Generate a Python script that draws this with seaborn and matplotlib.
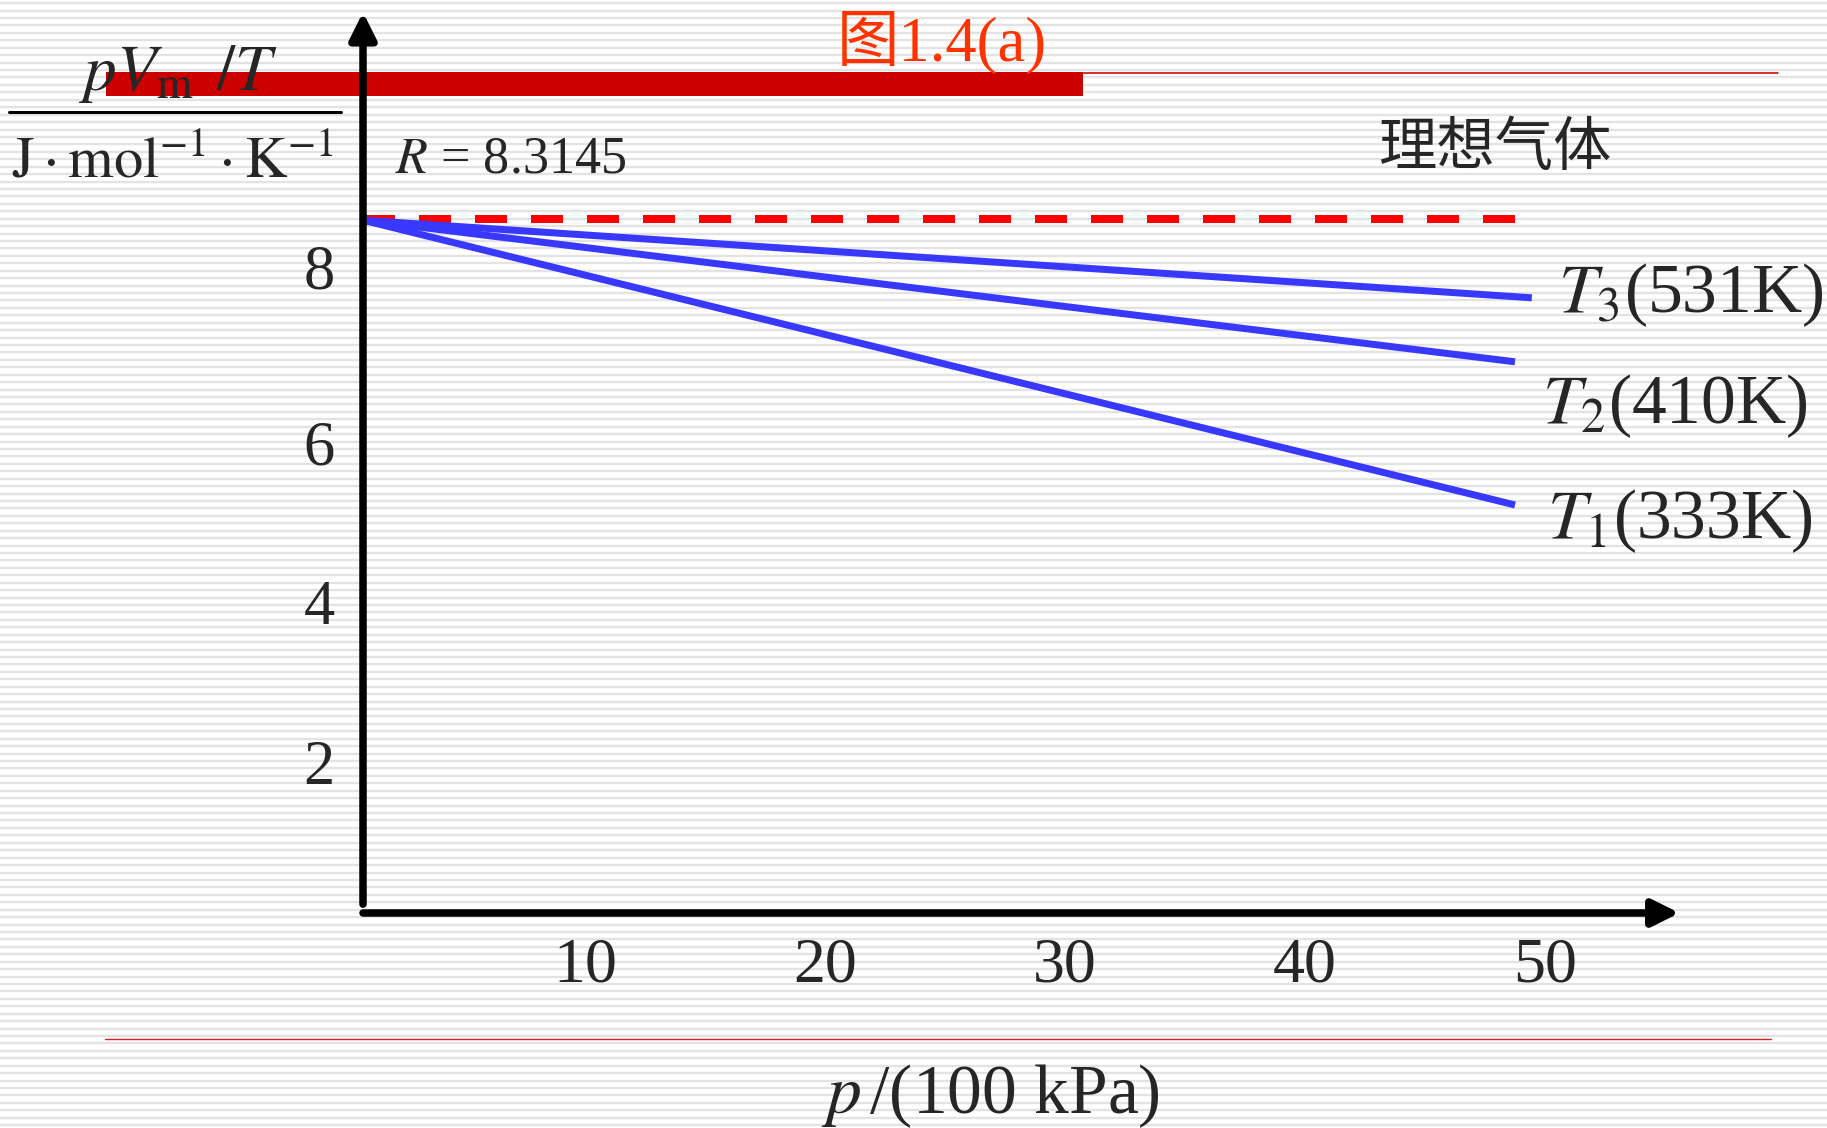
import numpy as np
import pandas as pd
import matplotlib
matplotlib.use("Agg")
import matplotlib.pyplot as plt
from matplotlib.lines import Line2D
from matplotlib.patches import Rectangle
from matplotlib.transforms import ScaledTranslation
import seaborn as sns

# ---------------- data ----------------
series_names = ["T1", "T2", "T3"]
series_labels = [r"$T_1$(333K)", r"$T_2$(410K)", r"$T_3$(531K)"]
p_start = [0.0, 0.0, 0.0]
p_end = [48.0, 48.0, 48.7]
v_start = [8.61, 8.61, 8.61]
v_end = [5.05, 6.84, 7.64]
ideal_p = [0.0, 48.0]
ideal_v = [8.63, 8.63]
xtick_vals = [10, 20, 30, 40, 50]
xtick_labels = ["10", "20", "30", "40", "50"]
ytick_vals = [2, 4, 6, 8.2]
ytick_labels = ["2", "4", "6", "8"]
title_text = "图1.4(a)"
ideal_text = "理想气体"
r_text = r"$R$ = 8.3145"
xlabel_text = r"$p\,$/(100 kPa)"
ylabel_num = r"$pV_{\mathrm{m}}\;\,/T$"
ylabel_den = r"$\mathrm{J\cdot mol^{-1}\cdot K^{-1}}$"

# ---------------- style ----------------
sns.set_style("white")
plt.rcParams["font.family"] = ["Liberation Serif", "Noto Sans CJK SC", "DejaVu Sans"]
plt.rcParams["mathtext.fontset"] = "stix"

W, H = 1827, 1128
DPI = 100
fig = plt.figure(figsize=(W / DPI, H / DPI), dpi=DPI)
fig.patch.set_facecolor("white")

def fx(px):
    return px / W

def fy(py):
    return 1 - py / H

def pt(px):
    return px * 72.0 / DPI

# striped background
bg = fig.add_axes([0, 0, 1, 1], zorder=-10)
bg.set_xlim(0, W)
bg.set_ylim(H, 0)
bg.axis("off")
stripes = np.arange(3.2, H, 7.43)
bg.hlines(stripes, 0, W, color="#e3e3e3", lw=pt(2.3), zorder=1)

# decorative red bars / lines
bg.add_patch(Rectangle((106, 72), 1083 - 106, 24, facecolor="#cc0000", lw=0, zorder=5))
bg.add_line(Line2D([1083, 1778], [72.5, 72.5], color="#cc0000", lw=pt(1.6), zorder=5))
bg.add_line(Line2D([105, 1771], [1039, 1039], color="#e02020", lw=pt(1.4), zorder=5))
# fraction bar of y label
bg.add_line(Line2D([9, 341], [112, 112], color="black", lw=pt(3), zorder=5))

# main axes: x 0 -> 363px, 24 px/unit ; y 0 -> 909px, 80 px/unit
x0px, xscale = 363, 24.0
y0px, yscale = 909, 80.0
xmax = 55.5
ybot, ytop = -0.05, 11.3
left = x0px
right = x0px + xmax * xscale
bottom = y0px - ybot * yscale
top = y0px - ytop * yscale
ax = fig.add_axes([fx(left), fy(bottom), fx(right) - fx(left), fy(top) - fy(bottom)])
ax.set_xlim(0, xmax)
ax.set_ylim(ybot, ytop)
ax.patch.set_alpha(0)
for s in ax.spines.values():
    s.set_visible(False)

# data lines through seaborn
rows = []
for name, a, b, c, d in zip(series_names, p_start, p_end, v_start, v_end):
    rows.append({"p": a, "v": c, "series": name})
    rows.append({"p": b, "v": d, "series": name})
df = pd.DataFrame(rows)
ideal_df = pd.DataFrame({"p": ideal_p, "v": ideal_v})

sns.lineplot(data=ideal_df, x="p", y="v", ax=ax, color="#ff0000",
             lw=pt(8), dashes=False, zorder=3)
ax.lines[-1].set_dashes([4, 3])
ax.lines[-1].set_dash_capstyle("butt")
sns.lineplot(data=df, x="p", y="v", hue="series", units="series", estimator=None,
             palette=["#3838ff"] * 3, lw=pt(7), legend=False, ax=ax, zorder=4)
for ln in ax.lines[1:]:
    ln.set_solid_capstyle("butt")

# axes arrows
arrow_kw = dict(arrowstyle="-|>", color="black", lw=pt(7.5), shrinkA=0, shrinkB=0,
                mutation_scale=40)
ax.annotate("", xy=(54.85, ybot), xytext=(0, ybot), arrowprops=arrow_kw,
            annotation_clip=False, zorder=5)
ax.annotate("", xy=(0, 11.21), xytext=(0, 0.06), arrowprops=arrow_kw,
            annotation_clip=False, zorder=5)

# ticks
ax.set_xticks(xtick_vals)
ax.set_xticklabels(xtick_labels, fontsize=46)
ax.set_yticks(ytick_vals)
ax.set_yticklabels(ytick_labels, fontsize=45)
ax.tick_params(axis="both", direction="in", length=pt(14), width=pt(1.6), color="black")
ax.tick_params(axis="x", pad=pt(25))
ax.tick_params(axis="y", pad=pt(28))
for lab in ax.get_xticklabels():
    lab.set_transform(lab.get_transform() + ScaledTranslation(-18 / DPI, 0, fig.dpi_scale_trans))
for lab in ax.get_yticklabels():
    lab.set_transform(lab.get_transform() + ScaledTranslation(0, -13 / DPI, fig.dpi_scale_trans))
ax.set_xlabel("")
ax.set_ylabel("")

# texts
fig.text(fx(178), fy(90), ylabel_num, fontsize=47, ha="center", va="baseline")
fig.text(fx(173), fy(178), ylabel_den, fontsize=42, ha="center", va="baseline")
fig.text(fx(395), fy(172), r_text, fontsize=37.5, ha="left", va="baseline")
fig.text(fx(837), fy(60), title_text, fontsize=45, color="#ff3300", ha="left", va="baseline")
fig.text(fx(1379), fy(165), ideal_text, fontsize=42, ha="left", va="baseline",
         family=["Noto Sans CJK SC"], fontweight="light")
label_pos = [(1547, 538), (1542, 423), (1558, 312)]
for lab, (lx, ly) in zip(series_labels, label_pos):
    fig.text(fx(lx), fy(ly), lab, fontsize=50, ha="left", va="baseline")
fig.text(fx(990), fy(1113), xlabel_text, fontsize=50, ha="center", va="baseline")

fig.savefig("out.png", dpi=DPI)
